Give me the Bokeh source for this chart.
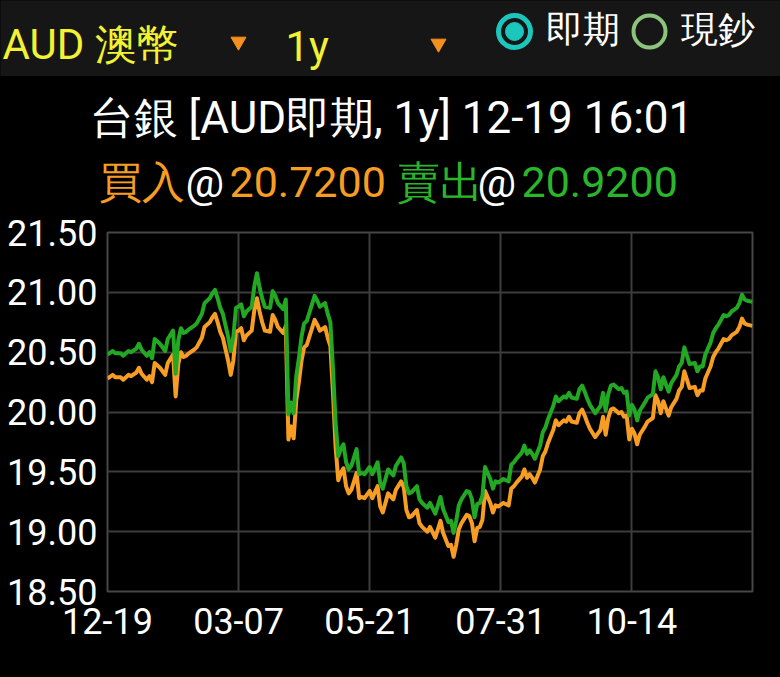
from bokeh.plotting import figure
from bokeh.models import Range1d, FixedTicker, PrintfTickFormatter
from bokeh.layouts import column
from bokeh.core.properties import value
from bokeh.embed import file_html
from bokeh.resources import INLINE

# ---------------- data ----------------
day_index = [
    0, 2, 3, 5, 6, 8, 9, 11, 12, 13,
    15, 16, 17, 18, 20, 22, 23, 25, 26, 27,
    28, 29, 30, 31, 33, 34, 36, 37, 39, 40,
    41, 42, 43, 44, 46, 47, 48, 49, 50, 51,
    52, 53, 55, 56, 57, 58, 59, 60, 62, 63,
    64, 65, 67, 68, 69, 70, 71, 72, 73, 74,
    75, 76, 77, 79, 80, 81, 83, 84, 85, 86,
    87, 88, 89, 90, 91, 92, 93, 95, 96, 97,
    98, 100, 101, 103, 104, 105, 106, 107, 109, 110,
    112, 113, 114, 115, 116, 118, 119, 120, 122, 123,
    125, 126, 127, 128, 130, 131, 132, 133, 134, 135,
    137, 138, 139, 140, 141, 142, 143, 144, 146, 147,
    148, 149, 151, 153, 154, 155, 156, 158, 159, 160,
    161, 162, 163, 165, 166, 167, 168, 170, 171, 172,
    174, 175, 176, 177, 179, 180, 181, 182, 183, 184,
    186, 188, 189, 190, 191, 192, 193, 195, 196, 197,
    198, 199, 200, 201, 202, 203, 205, 206, 208, 209,
    210, 211, 212, 213, 214, 215, 217, 218, 219, 220,
    221, 222, 224, 225, 226, 227, 228, 230, 231, 232,
    233, 235, 236, 237, 238, 240, 241, 242, 243, 244,
    246,
]

buy = [
    20.28, 20.31, 20.29, 20.29, 20.27, 20.31, 20.30, 20.33, 20.37, 20.32,
    20.27, 20.30, 20.25, 20.41, 20.37, 20.31, 20.41, 20.48, 20.13, 20.40,
    20.50, 20.46, 20.47, 20.49, 20.52, 20.54, 20.62, 20.71, 20.75, 20.79,
    20.82, 20.75, 20.67, 20.62, 20.43, 20.31, 20.43, 20.67, 20.68, 20.70,
    20.60, 20.64, 20.68, 20.85, 20.95, 20.84, 20.75, 20.68, 20.67, 20.81,
    20.77, 20.71, 20.66, 20.72, 19.77, 19.88, 19.78, 20.10, 20.25, 20.43,
    20.54, 20.56, 20.63, 20.77, 20.73, 20.68, 20.71, 20.62, 20.55, 20.16,
    19.71, 19.43, 19.49, 19.53, 19.38, 19.32, 19.35, 19.49, 19.28, 19.29,
    19.28, 19.34, 19.28, 19.38, 19.21, 19.16, 19.24, 19.32, 19.27, 19.35,
    19.42, 19.37, 19.18, 19.12, 19.13, 19.18, 19.07, 19.04, 19.00, 19.04,
    18.95, 19.02, 19.09, 18.99, 18.88, 18.89, 18.79, 18.89, 19.02, 19.07,
    19.14, 19.13, 19.07, 18.92, 19.03, 19.04, 19.10, 19.34, 19.24, 19.16,
    19.22, 19.21, 19.24, 19.22, 19.36, 19.38, 19.41, 19.46, 19.52, 19.45,
    19.48, 19.45, 19.41, 19.52, 19.63, 19.67, 19.74, 19.85, 19.93, 19.89,
    19.93, 19.92, 19.96, 19.92, 19.91, 19.99, 20.02, 19.97, 19.91, 19.86,
    19.79, 19.85, 19.96, 19.81, 19.95, 20.02, 20.03, 19.99, 20.00, 19.96,
    19.97, 19.77, 19.86, 19.82, 19.73, 19.81, 19.88, 19.92, 19.95, 20.14,
    20.09, 19.99, 20.09, 20.03, 19.97, 20.04, 20.11, 20.18, 20.21, 20.34,
    20.27, 20.20, 20.21, 20.14, 20.18, 20.18, 20.28, 20.38, 20.46, 20.50,
    20.53, 20.61, 20.60, 20.61, 20.64, 20.67, 20.71, 20.78, 20.74, 20.73,
    20.72,
]

sell = [
    20.48, 20.51, 20.49, 20.49, 20.47, 20.51, 20.50, 20.53, 20.57, 20.52,
    20.47, 20.50, 20.45, 20.61, 20.57, 20.51, 20.61, 20.68, 20.32, 20.60,
    20.70, 20.66, 20.67, 20.69, 20.72, 20.74, 20.82, 20.91, 20.95, 20.99,
    21.02, 20.95, 20.87, 20.82, 20.63, 20.51, 20.63, 20.87, 20.88, 20.90,
    20.80, 20.84, 20.88, 21.05, 21.16, 21.04, 20.95, 20.88, 20.87, 21.01,
    20.97, 20.91, 20.86, 20.94, 19.98, 20.08, 19.99, 20.30, 20.45, 20.63,
    20.74, 20.76, 20.83, 20.97, 20.93, 20.88, 20.91, 20.82, 20.75, 20.36,
    19.91, 19.63, 19.69, 19.73, 19.58, 19.52, 19.55, 19.69, 19.48, 19.49,
    19.48, 19.54, 19.48, 19.58, 19.41, 19.36, 19.44, 19.52, 19.47, 19.55,
    19.62, 19.57, 19.38, 19.32, 19.33, 19.38, 19.27, 19.24, 19.20, 19.24,
    19.15, 19.22, 19.29, 19.19, 19.08, 19.09, 18.99, 19.09, 19.22, 19.27,
    19.34, 19.33, 19.27, 19.12, 19.23, 19.24, 19.30, 19.54, 19.44, 19.36,
    19.42, 19.41, 19.44, 19.42, 19.56, 19.58, 19.61, 19.66, 19.72, 19.65,
    19.68, 19.65, 19.61, 19.72, 19.83, 19.87, 19.94, 20.05, 20.13, 20.09,
    20.13, 20.12, 20.16, 20.12, 20.11, 20.19, 20.22, 20.17, 20.11, 20.06,
    19.99, 20.05, 20.16, 20.01, 20.15, 20.22, 20.23, 20.19, 20.20, 20.16,
    20.17, 19.97, 20.06, 20.02, 19.93, 20.01, 20.08, 20.12, 20.15, 20.34,
    20.29, 20.19, 20.29, 20.23, 20.17, 20.24, 20.31, 20.38, 20.41, 20.54,
    20.47, 20.40, 20.41, 20.34, 20.38, 20.38, 20.48, 20.58, 20.66, 20.70,
    20.73, 20.81, 20.80, 20.81, 20.84, 20.87, 20.91, 20.98, 20.94, 20.93,
    20.92,
]

tick_days = [0, 50, 100, 150, 200]
tick_labels = ["12-19", "03-07", "05-21", "07-31", "10-14"]
y_ticks = [18.5, 19.0, 19.5, 20.0, 20.5, 21.0, 21.5]

currency_text = "AUD 澳幣"
period_text = "1y"
radio_labels = ["即期", "現鈔"]
title_text = "台銀 [AUD即期, 1y] 12-19 16:01"
buy_word, sell_word, at_sign = "買入", "賣出", "@"
buy_now, sell_now = "20.7200", "20.9200"

# ---------------- style ----------------
ORANGE = "#f79d24"
GREEN = "#22a822"
GREEN_TXT = "#2bb52b"
YELLOW = "#f2f232"
TEAL = "#1cc6bd"
LIGHT_GREEN = "#8cc47c"
FONT = "Roboto"

W = 780
HEADER_H = 212
CHART_H = 677 - HEADER_H

# ---------------- header (picture-pixel coordinates) ----------------
header = figure(width=W, height=HEADER_H, x_range=Range1d(0, W),
                y_range=Range1d(HEADER_H, 0), x_axis_type=None, y_axis_type=None,
                output_backend="svg", toolbar_location=None, min_border=0,
                background_fill_color="black", border_fill_color="black",
                outline_line_color=None, frame_align=False)
header.grid.visible = False

header.quad(left=[0], right=[W], top=[0], bottom=[75], color="#161616")


def put(fig, x, y, txt, color, size, align="left"):
    fig.text(x=[x], y=[y], text=[txt], text_color=color, text_font=value(FONT),
             text_font_size=size, text_align=align, text_baseline="alphabetic")


put(header, 2, 44, currency_text, YELLOW, "42px")
put(header, 285, 46, period_text, YELLOW, "42px")
header.scatter(x=[238, 438], y=[41, 43], marker="inverted_triangle", size=15,
               color="#f5901e")

header.scatter(x=[514], y=[31], marker="circle", size=32, fill_color=None,
               line_color=TEAL, line_width=5)
header.scatter(x=[514], y=[31], marker="circle", size=18, color=TEAL)
put(header, 545, 29, radio_labels[0], "white", "37px")
header.scatter(x=[649], y=[31], marker="circle", size=32, fill_color=None,
               line_color=LIGHT_GREEN, line_width=4)
put(header, 680, 29, radio_labels[1], "white", "37px")

put(header, 391, 117, title_text, "white", "44px", align="center")

put(header, 98, 181, buy_word, ORANGE, "43px")
put(header, 185, 181, at_sign, "white", "43px")
put(header, 229, 181, buy_now, ORANGE, "43px")
put(header, 396, 181, sell_word, GREEN_TXT, "43px")
put(header, 477, 181, at_sign, "white", "43px")
put(header, 521, 181, sell_now, GREEN_TXT, "43px")

# ---------------- chart ----------------
chart = figure(width=W, height=CHART_H, x_range=Range1d(0, 246),
               y_range=Range1d(18.5, 21.5), output_backend="svg",
               toolbar_location=None, min_border_left=107, min_border_right=28,
               min_border_top=232 - HEADER_H, min_border_bottom=86,
               background_fill_color="black", border_fill_color="black",
               outline_line_color="#474747", outline_line_width=2,
               frame_align=False)

chart.line(day_index, buy, line_color=ORANGE, line_width=4, line_join="round")
chart.line(day_index, sell, line_color=GREEN, line_width=4, line_join="round")

chart.xaxis.ticker = FixedTicker(ticks=tick_days)
chart.xaxis.major_label_overrides = dict(zip(tick_days, tick_labels))
chart.yaxis.ticker = FixedTicker(ticks=y_ticks)
chart.yaxis.formatter = PrintfTickFormatter(format="%.2f")

for ax in chart.axis:
    ax.axis_line_color = None
    ax.major_tick_line_color = None
    ax.minor_tick_line_color = None
    ax.major_tick_out = 0
    ax.major_tick_in = 0
    ax.minor_tick_out = 0
    ax.major_label_text_color = "white"
    ax.major_label_text_font = FONT
    ax.major_label_text_font_size = "36px"
    ax.major_label_standoff = 10
chart.xaxis.major_label_standoff = 16

chart.grid.grid_line_color = "#3d3d3d"
chart.grid.grid_line_width = 2

layout = column(header, chart, spacing=0, styles={"background-color": "black"})
open("out.html", "w").write(file_html(layout, INLINE))
